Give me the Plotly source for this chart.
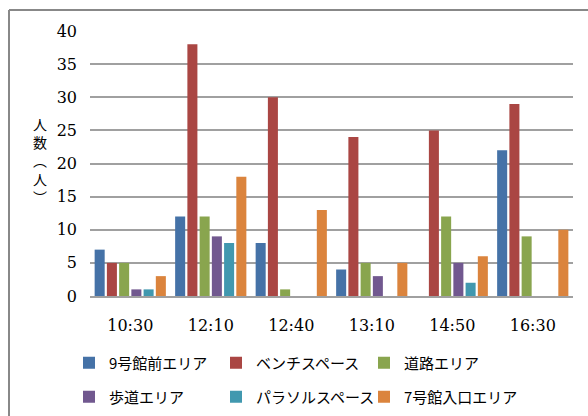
import plotly.graph_objects as go

categories = ["10:30", "12:10", "12:40", "13:10", "14:50", "16:30"]
series_names = ["9号館前エリア", "ベンチスペース", "道路エリア", "歩道エリア", "パラソルスペース", "7号館入口エリア"]
area_9gou = [7, 12, 8, 4, 0, 22]
bench_space = [5, 38, 30, 24, 25, 29]
road_area = [5, 12, 1, 5, 12, 9]
sidewalk_area = [1, 9, 0, 3, 5, 0]
parasol_space = [1, 8, 0, 0, 2, 0]
entrance_7gou = [3, 18, 13, 5, 6, 10]
series_values = [area_9gou, bench_space, road_area, sidewalk_area, parasol_space, entrance_7gou]
colors = ["#4572A7", "#AA4643", "#89A54E", "#71588F", "#4198AF", "#DB843D"]
y_ticks = [0, 5, 10, 15, 20, 25, 30, 35, 40]
y_title = "人<br>数<br>︵<br>人<br>︶"

W, H = 588, 416
L, R, T, B = 90, 15, 31, 120
pw, ph = W - L - R, H - T - B
SERIF = "DejaVu Serif"

# legend slot (left pixel, row centre pixel) for each series: 3 columns x 2 rows
legend_cols = [69, 216, 364]
legend_rows = [363, 397]

fig = go.Figure()
legend_layouts = {}
for i, (name, vals, col) in enumerate(zip(series_names, series_values, colors)):
    key = "legend" if i == 0 else f"legend{i + 1}"
    fig.add_trace(go.Bar(
        x=categories, y=vals, name=name,
        marker=dict(color=col, line=dict(width=0)),
        legend=key,
    ))
    legend_layouts[key] = dict(
        x=legend_cols[i % 3] / W, y=1 - legend_rows[i // 3] / H,
        orientation="h", xanchor="left", yanchor="middle",
        xref="container", yref="container",
        font=dict(family="Noto Sans CJK JP", size=15, color="#000000"),
        bgcolor="rgba(0,0,0,0)", itemclick=False,
    )

def px_x(p):
    return (p - L) / pw

def px_y(p):
    return 1 - (p - T) / ph

fig.update_layout(
    width=W, height=H,
    margin=dict(l=L, r=R, t=T, b=B, autoexpand=False),
    paper_bgcolor="white", plot_bgcolor="white",
    barmode="group", bargap=0.088, bargroupgap=0.18,
    showlegend=True,
    xaxis=dict(
        type="category", showgrid=False, showline=True, linecolor="#A0A0A0", linewidth=1.5,
        ticks="", tickfont=dict(family=SERIF, size=16, color="#000000"),
        ticklabelstandoff=14, automargin=False,
    ),
    yaxis=dict(
        range=[0, 40], tickvals=y_ticks, showgrid=True, gridcolor="#A0A0A0", gridwidth=1.5,
        zeroline=False, showline=False, ticks="",
        tickfont=dict(family=SERIF, size=16, color="#000000"),
        ticklabelstandoff=12, automargin=False,
    ),
    shapes=[
        dict(type="line", xref="paper", yref="paper", x0=px_x(9), x1=px_x(600), y0=px_y(10), y1=px_y(10),
             line=dict(color="#888888", width=2)),
        dict(type="line", xref="paper", yref="paper", x0=px_x(9), x1=px_x(9), y0=px_y(10), y1=px_y(430),
             line=dict(color="#888888", width=2)),
    ],
    annotations=[dict(
        text=y_title, xref="paper", yref="paper", x=px_x(40), y=px_y(160),
        xanchor="center", yanchor="middle", showarrow=False,
        font=dict(family="Noto Sans CJK JP", size=14, color="#000000"))],
    **legend_layouts,
)

fig.write_html("out.html")
